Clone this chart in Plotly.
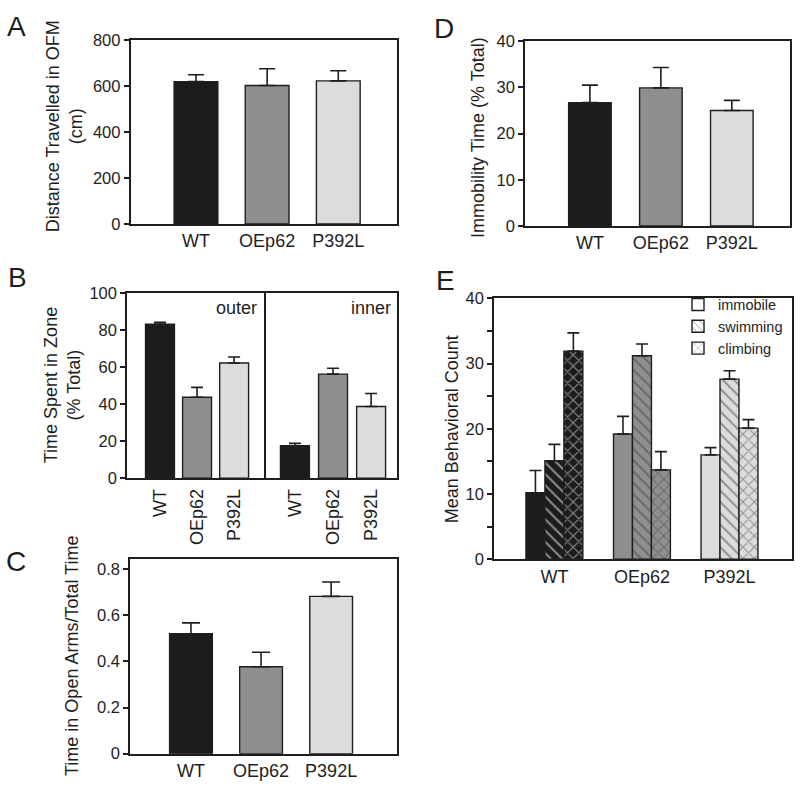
import plotly.graph_objects as go

# ---------------- data ----------------
groups = ["WT", "OEp62", "P392L"]

dist_mean = [620, 603, 623]
dist_err = [30, 73, 44]

zone_outer_mean = [83.3, 43.8, 62.3]
zone_outer_err = [1.0, 5.3, 3.3]
zone_inner_mean = [17.6, 56.3, 38.8]
zone_inner_err = [1.3, 3.2, 7.0]

openarm_mean = [0.52, 0.377, 0.682]
openarm_err = [0.047, 0.063, 0.062]

immob_mean = [26.7, 29.9, 25.0]
immob_err = [3.8, 4.4, 2.2]

behaviors = ["immobile", "swimming", "climbing"]
beh_mean = {
    "immobile": [10.2, 19.2, 16.0],
    "swimming": [15.1, 31.2, 27.6],
    "climbing": [31.9, 13.7, 20.1],
}
beh_err = {
    "immobile": [3.4, 2.7, 1.1],
    "swimming": [2.5, 1.8, 1.3],
    "climbing": [2.8, 2.8, 1.3],
}

# ---------------- style ----------------
FONT = "Liberation Sans, Arial, sans-serif"
INK = "#1e1e1e"
bar_colors = ["#1c1c1c", "#8f8f8f", "#dcdcdc"]
pattern_fg = ["#ffffff", "#3a3a3a", "#7a7a7a"]
XTICK = 18
YTICK = 16.5
TITLE = 18

fig = go.Figure()


def err(vals, w):
    return dict(type="data", symmetric=False, array=vals, arrayminus=[0] * len(vals),
                color=INK, thickness=1.6, width=w)


def simple_bar(x, y, e, xa, ya, width, capw):
    fig.add_trace(go.Bar(
        x=x, y=y, width=width, xaxis=xa, yaxis=ya, showlegend=False,
        marker=dict(color=bar_colors, line=dict(color=INK, width=1.4)),
        error_y=err(e, capw)))


# A
simple_bar(groups, dist_mean, dist_err, "x", "y", 0.615, 8)
# B
simple_bar(groups, zone_outer_mean, zone_outer_err, "x2", "y2", 0.78, 6)
simple_bar(groups, zone_inner_mean, zone_inner_err, "x3", "y3", 0.76, 6)
# C
simple_bar(groups, openarm_mean, openarm_err, "x4", "y4", 0.61, 9)
# D
simple_bar(groups, immob_mean, immob_err, "x5", "y5", 0.6, 8)

# E
shapes_map = {"immobile": "", "swimming": "\\", "climbing": "x"}
for b in behaviors:
    fig.add_trace(go.Bar(
        x=groups, y=beh_mean[b], xaxis="x6", yaxis="y6", name=b, showlegend=False,
        offsetgroup=b,
        marker=dict(color=bar_colors, line=dict(color=INK, width=1.4),
                    pattern=dict(shape=shapes_map[b], fgcolor=pattern_fg, size=8,
                                 solidity=0.25, fillmode="overlay")),
        error_y=err(beh_err[b], 6)))
# legend entries
for b in behaviors:
    fig.add_trace(go.Bar(
        x=[None], y=[None], xaxis="x6", yaxis="y6", name=b, showlegend=True,
        marker=dict(color="white", line=dict(color=INK, width=1.4),
                    pattern=dict(shape=shapes_map[b], fgcolor="#555555", size=6,
                                 solidity=0.2, fillmode="overlay"))))

# ---------------- axes ----------------
def xax(domain, anchor, rng, tickangle=0, standoff=0):
    return dict(domain=domain, anchor=anchor, range=rng, type="category",
                showline=True, linecolor=INK, linewidth=1.5, mirror=True,
                ticks="", showgrid=False, zeroline=False, tickangle=tickangle,
                tickfont=dict(size=XTICK, color=INK, family=FONT),
                ticklabelstandoff=standoff)


def yax(domain, anchor, rng, tickvals, ticktext=None, show=True, mirror=True):
    d = dict(domain=domain, anchor=anchor, range=rng, showline=True, linecolor=INK,
             linewidth=1.5, mirror=mirror, showgrid=False, zeroline=False,
             tickvals=tickvals, ticks="outside" if show else "", ticklen=5,
             tickwidth=1.5, tickcolor=INK, showticklabels=show,
             tickfont=dict(size=YTICK, color=INK, family=FONT))
    if ticktext is not None:
        d["ticktext"] = ticktext
    return d


W = 800.0
H = 793.0  # page adds a few px below the figure; keep the page at 800 px tall


def px(a, b):
    return [a / W, b / W]


def py(top, bottom):
    return [1 - bottom / H, 1 - top / H]


layout = dict(
    width=int(W), height=int(H), margin=dict(l=0, r=0, t=0, b=0),
    paper_bgcolor="white", plot_bgcolor="white",
    font=dict(family=FONT, color=INK, size=XTICK),
    barmode="group", bargap=0.35, bargroupgap=0,
    xaxis=xax(px(130.5, 397), "y", [-0.92, 2.825]),
    yaxis=yax(py(32, 220), "x", [0, 800], [0, 200, 400, 600, 800]),
    xaxis2=xax(px(127, 266), "y2", [-0.89, 2.86], tickangle=-90, standoff=2),
    yaxis2=yax(py(291, 480), "x2", [0, 100], [0, 20, 40, 60, 80, 100], mirror=False),
    xaxis3=xax(px(266, 397), "y3", [-0.76, 2.68], tickangle=-90, standoff=2),
    yaxis3=yax(py(291, 480), "x3", [0, 100], [0, 20, 40, 60, 80, 100], show=False),
    xaxis4=xax(px(130, 397), "y4", [-0.87, 2.94]),
    yaxis4=yax(py(563, 762), "x4", [0, 0.843], [0, 0.2, 0.4, 0.6, 0.8],
               ["0", "0.2", "0.4", "0.6", "0.8"]),
    xaxis5=xax(px(525, 790), "y5", [-0.915, 2.82]),
    yaxis5=yax(py(33, 222), "x5", [0, 40], [0, 10, 20, 30, 40]),
    xaxis6=xax(px(494, 792), "y6", [-0.69, 2.714]),
    yaxis6=yax(py(296, 563), "x6", [0, 40], [0, 5, 10, 15, 20, 25, 30, 35, 40],
               ["0", "", "10", "", "20", "", "30", "", "40"]),
    legend=dict(x=678 / W, y=1 - 286 / H, xanchor="left", yanchor="top",
                bgcolor="rgba(0,0,0,0)", font=dict(size=14.5, color=INK, family=FONT),
                tracegroupgap=0, itemwidth=30),
)
fig.update_layout(**layout)

# ---------------- annotations ----------------
ann = []


def text(s, x, y, size, angle=0, xanchor="center", yanchor="middle"):
    ann.append(dict(text=s, x=x / W, y=1 - y / H, xref="paper", yref="paper",
                    showarrow=False, textangle=angle, xanchor=xanchor, yanchor=yanchor,
                    font=dict(size=size, color=INK, family=FONT)))


text("A", 16, 0, 28, yanchor="top")
text("D", 444, 2, 28, yanchor="top")
text("B", 17, 275, 28)
text("C", 16, 565, 28)
text("E", 445, 278, 28)

text("Distance Travelled in OFM<br>(cm)", 64, 120, TITLE, -90)
text("Time Spent in Zone<br>(% Total)", 62, 385, TITLE, -90)
text("Time in Open Arms/Total Time", 72, 662, TITLE, -90)
text("Immobility Time (% Total)", 478, 132, TITLE, -90)
text("Mean Behavioral Count", 452, 430, TITLE, -90)
text("outer", 259, 306, TITLE, xanchor="right")
text("inner", 393, 306, TITLE, xanchor="right")

fig.update_layout(annotations=ann)
fig.write_html("out.html", config={"displayModeBar": False},
               post_script="document.body.style.margin='0px';")
